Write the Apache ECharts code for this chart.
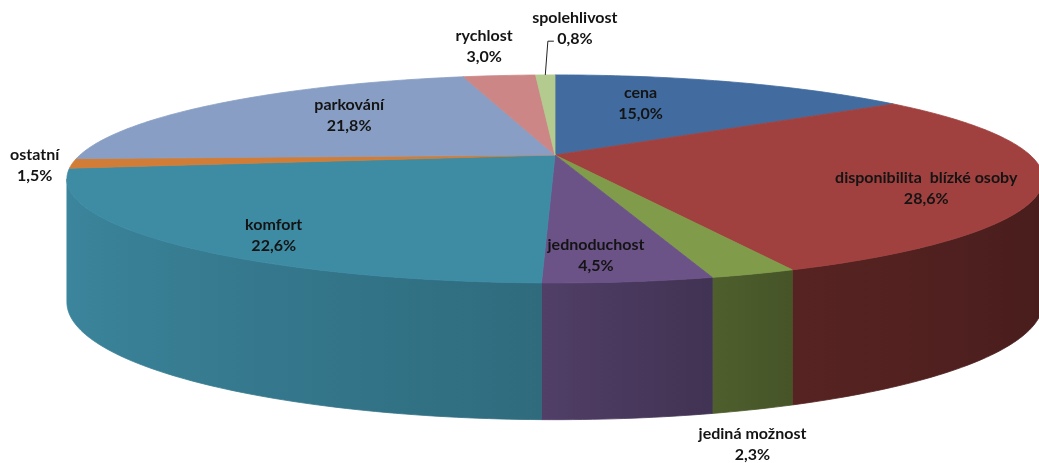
<!DOCTYPE html>
<html>
<head>
<meta charset="utf-8">
<script src="https://cdn.jsdelivr.net/npm/echarts@6/dist/echarts.min.js"></script>
<style>
  html, body { margin: 0; padding: 0; background: #fff; }
  #chart { width: 1039px; height: 463px; }
</style>
</head>
<body>
<div id="chart"></div>
<script>
var names = ['cena', 'disponibilita  blízké osoby', 'jediná možnost', 'jednoduchost', 'komfort', 'ostatní', 'parkování', 'rychlost', 'spolehlivost'];
var values = [15.0, 28.6, 2.3, 4.5, 22.6, 1.5, 21.8, 3.0, 0.8];
var colors = ['#426C9F', '#A1413F', '#809B49', '#6B5388', '#3E8CA4', '#D17D38', '#889EC4', '#CB8685', '#B3CB8E'];

// label placement: angle shift from the slice middle (deg) and distance as share of the radius
var labelShift = [-8, 8, 11, 2, -6, -0.5, 6, 0.6, 3.3];
var labelRadius = [0.63, 0.79, 1.77, 0.83, 0.85, 1.075, 0.655, 1.5, 1.83];

// tilted disc: centre, radii, perspective factor, wall height
var pie = { cx: 555, cy: 155, rx: 475, ry: 98.5, k: 0.23, depth: 120 };

var total = values.reduce(function (s, v) { return s + v; }, 0);
var starts = [];
var ends = [];
var acc = 0;
values.forEach(function (v) {
  starts.push(acc / total * Math.PI * 2);
  acc += v;
  ends.push(acc / total * Math.PI * 2);
});

var visFrom = Math.acos(-pie.k);
var visTo = Math.PI * 2 - visFrom;

function project (a, r) {
  var d = 1 + pie.k * r * Math.cos(a);
  return [pie.cx + pie.rx * r * Math.sin(a) / d, pie.cy - pie.ry * r * Math.cos(a) / d];
}

function drop (a) {
  return pie.depth * Math.sqrt(1 / (1 + pie.k * Math.cos(a)));
}

function shade (hex, f) {
  var n = parseInt(hex.slice(1), 16);
  var r = Math.round(((n >> 16) & 255) * f);
  var g = Math.round(((n >> 8) & 255) * f);
  var b = Math.round((n & 255) * f);
  return 'rgb(' + r + ',' + g + ',' + b + ')';
}

// light on the wall: bright on the left, dark on the right
function wallLight (a) {
  var s = Math.sin(a);
  if (s < 0) {
    return 0.76 - 0.2 * s;
  }
  return s < 0.4 ? 0.74 - 0.5 * s : 0.54 - 0.17 * (s - 0.4);
}

function pct (v) {
  return v.toFixed(1).replace('.', ',') + '%';
}

function renderItem (params, api) {
  var i = params.dataIndex;
  var a0 = starts[i];
  var a1 = ends[i];
  var color = colors[i];
  var children = [];
  var step = Math.PI / 180;

  var top = [project(0, 0)];
  var n = Math.max(2, Math.ceil((a1 - a0) / step));
  for (var j = 0; j <= n; j++) {
    top.push(project(a0 + (a1 - a0) * j / n, 1));
  }
  children.push({
    type: 'polygon',
    z2: 2,
    shape: { points: top },
    style: { fill: color, stroke: color, lineWidth: 0.8 }
  });

  var v0 = Math.max(a0, visFrom);
  var v1 = Math.min(a1, visTo);
  if (v1 > v0) {
    var m = Math.max(2, Math.ceil((v1 - v0) / step));
    var upper = [];
    var lower = [];
    for (var q = 0; q <= m; q++) {
      var a = v0 + (v1 - v0) * q / m;
      var p = project(a, 1);
      upper.push(p);
      lower.unshift([p[0], p[1] + drop(a)]);
    }
    var xRight = project(v0, 1)[0];
    var xLeft = project(v1, 1)[0];
    var stops = [];
    for (var t = 0; t <= 8; t++) {
      var ang = v1 - (v1 - v0) * t / 8;
      var off = xRight > xLeft ? (project(ang, 1)[0] - xLeft) / (xRight - xLeft) : t / 8;
      stops.push({ offset: Math.min(1, Math.max(0, off)), color: shade(color, wallLight(ang)) });
    }
    var fill = new echarts.graphic.LinearGradient(xLeft, 0, xRight, 0, stops, true);
    children.push({
      type: 'polygon',
      z2: 1,
      shape: { points: upper.concat(lower) },
      style: { fill: fill, stroke: fill, lineWidth: 0.8 }
    });
  }

  var mid = (a0 + a1) / 2 + labelShift[i] * Math.PI / 180;
  var lp = project(mid, labelRadius[i]);
  children.push({
    type: 'text',
    z2: 4,
    x: lp[0],
    y: lp[1],
    style: {
      text: names[i] + '\n' + pct(values[i]),
      align: 'center',
      verticalAlign: 'middle',
      textAlign: 'center',
      textVerticalAlign: 'middle',
      font: 'bold 16px Lato',
      lineHeight: 21,
      fill: '#141414'
    }
  });

  if (values[i] < 1) {
    var from = project((a0 + a1) / 2, 1);
    children.push({
      type: 'polyline',
      z2: 3,
      shape: { points: [from, [lp[0] - 27, lp[1] + 13], [lp[0] - 21, lp[1] + 13]] },
      style: { stroke: '#222', lineWidth: 1, fill: null }
    });
  }

  return { type: 'group', children: children };
}

var myChart = echarts.init(document.getElementById('chart'));
myChart.setOption({
  backgroundColor: '#ffffff',
  animation: false,
  series: [
    {
      type: 'custom',
      coordinateSystem: 'none',
      silent: true,
      renderItem: renderItem,
      data: values
    }
  ]
});
</script>
</body>
</html>
